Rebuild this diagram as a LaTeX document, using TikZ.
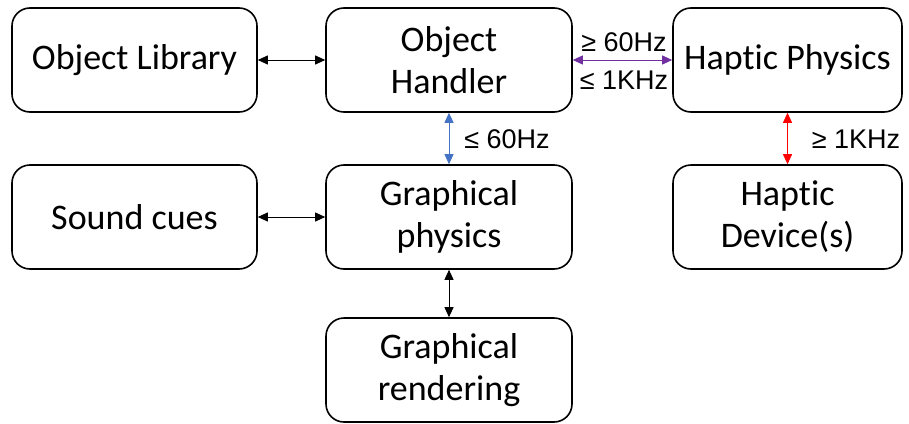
\documentclass[tikz,border=0pt]{standalone}
\usepackage{fontspec}
\setmainfont[Ligatures={NoCommon,NoContextual},RawFeature={-liga;-clig;-dlig;-calt}]{Carlito}
\newfontfamily\lab{Liberation Sans}
\usetikzlibrary{arrows.meta}
\definecolor{ablue}{RGB}{68,114,196}
\definecolor{apurple}{RGB}{112,48,160}
\definecolor{ared}{RGB}{255,0,0}
\newcommand{\hapt}{Hapt\kern0pt ic}
\begin{document}
\begin{tikzpicture}[x=1pt,y=-1pt,
  box/.style={draw=black,line width=1.6pt,rounded corners=18pt,inner sep=0pt,align=center,font=\fontsize{36}{42}\selectfont},
  conn/.style={line width=0.9pt,{Triangle[length=10pt,width=9pt]}-{Triangle[length=10pt,width=9pt]}},
  lbl/.style={font=\lab\fontsize{27}{30}\selectfont,inner sep=0pt}]
\useasboundingbox (0,0) rectangle (909,423);
\node[box,minimum width=245pt,minimum height=104pt] (lib) at (134.5,60) {Object Library};
\node[box,minimum width=246pt,minimum height=104pt] (hand) at (449,60) {Object\\Handler};
\node[box,minimum width=229pt,minimum height=104pt] (hphys) at (787.5,60) {\hapt{} Physics};
\node[box,minimum width=245pt,minimum height=104pt] (sound) at (134.5,217) {Sound cues};
\node[box,minimum width=246pt,minimum height=104pt] (gphys) at (449,217) {Graphical\\physics};
\node[box,minimum width=229pt,minimum height=104pt] (hdev) at (787.5,217) {\hapt\\Device(s)};
\node[box,minimum width=246pt,minimum height=104pt] (grend) at (449,370) {Graphical\\rendering};
\draw[conn] (lib) -- (hand);
\draw[conn,color=apurple] (hand) -- (hphys);
\draw[conn,color=ablue] (hand) -- (gphys);
\draw[conn,color=ared] (hphys) -- (hdev);
\draw[conn] (sound) -- (gphys);
\draw[conn] (gphys) -- (grend);
\node[lbl] (l1) at (624,42) {≥ 60Hz};
\node[lbl] (l2) at (624,80) {≤ 1KHz};
\node[lbl] (l3) at (507,139) {≤ 60Hz};
\node[lbl] (l4) at (856,139) {≥ 1KHz};
\end{tikzpicture}
\end{document}
